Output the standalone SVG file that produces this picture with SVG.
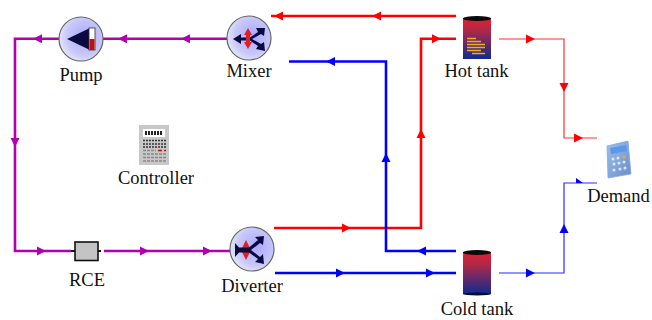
<svg xmlns="http://www.w3.org/2000/svg" width="652" height="320" viewBox="0 0 652 320">
<style>
text{font-family:"Liberation Serif","Times New Roman",serif;font-size:18.500px;fill:#111;text-anchor:middle}
.c{fill:none;stroke-linejoin:miter}
.p{stroke:#b000b0;stroke-width:2.600}
.r{stroke:#ff0000;stroke-width:2.600}
.b{stroke:#0000ff;stroke-width:2.600}
.rt{stroke:#ff3030;stroke-width:1.200}
.bt{stroke:#2a2aff;stroke-width:1.200}
.ball{fill:url(#ball);stroke:#666;stroke-width:1.200}
.ar{fill:#0a0a40}
.redm{fill:#e02020}
</style>
<defs>
<radialGradient id="ball" cx="0.6" cy="0.45" r="0.7"><stop offset="0" stop-color="#a8a8ff"/><stop offset="0.6" stop-color="#c8c8f8"/><stop offset="1" stop-color="#f4f4fa"/></radialGradient>
<linearGradient id="tank" x1="0" y1="0" x2="0" y2="1"><stop offset="0" stop-color="#e02030"/><stop offset="0.3" stop-color="#b02848"/><stop offset="1" stop-color="#102a90"/></linearGradient>
<linearGradient id="calc" x1="0" y1="0" x2="1" y2="1"><stop offset="0" stop-color="#9cc0f0"/><stop offset="1" stop-color="#6a8cc8"/></linearGradient>
<g id="pa"><path d="M-5,-4.500 L4,0 L-5,4.500 Z"/></g>
</defs>
<g id="connectors">
<path class="c p" d="M60,38.700H15V251H71"/>
<path class="c p" d="M227,38.700H103"/>
<path class="c p" d="M104,251H230"/>
<path class="c r" d="M456,16H271"/>
<path class="c r" d="M274,228H421V38.700H456"/>
<path class="c b" d="M456,251H386V61.500H289"/>
<path class="c b" d="M275,273H456"/>
<path class="c rt" d="M499,39H564V138H597"/>
<path class="c bt" d="M499,273H564V183H597"/>
<g fill="#b000b0">
<use href="#pa" transform="translate(37,38.700) rotate(180)"/>
<use href="#pa" transform="translate(122,38.700) rotate(180)"/>
<use href="#pa" transform="translate(185,38.700) rotate(180)"/>
<use href="#pa" transform="translate(15,143) rotate(90)"/>
<use href="#pa" transform="translate(42,251)"/>
<use href="#pa" transform="translate(145,251)"/>
<use href="#pa" transform="translate(208,251)"/>
</g>
<g fill="#ff0000">
<use href="#pa" transform="translate(278,16) rotate(180)"/>
<use href="#pa" transform="translate(376,16) rotate(180)"/>
<use href="#pa" transform="translate(347,228)"/>
<use href="#pa" transform="translate(421,133) rotate(-90)"/>
<use href="#pa" transform="translate(437,38.700)"/>
<use href="#pa" transform="translate(531,39)"/>
<use href="#pa" transform="translate(564,88) rotate(90)"/>
<use href="#pa" transform="translate(579,138)"/>
</g>
<g fill="#0000ff">
<use href="#pa" transform="translate(330,61.500) rotate(180)"/>
<use href="#pa" transform="translate(386,157) rotate(-90)"/>
<use href="#pa" transform="translate(421,251) rotate(180)"/>
<use href="#pa" transform="translate(341,273)"/>
<use href="#pa" transform="translate(431,273)"/>
<use href="#pa" transform="translate(531,273)"/>
<use href="#pa" transform="translate(564,228) rotate(-90)"/>
<path d="M576,183 V178 L583,183 Z"/>
</g>
</g>
<g id="pump">
<circle class="ball" cx="81" cy="39" r="22"/>
<path class="ar" d="M67,39 L90,28 V50 Z"/>
<rect x="89" y="28" width="6" height="22" fill="#fff" stroke="#333" stroke-width="0.800"/>
<rect x="89.500" y="39" width="5" height="11" fill="#c01010"/>
<text x="81" y="81">Pump</text>
</g>
<g id="mixer">
<circle class="ball" cx="249" cy="38" r="22"/>
<path class="ar" d="M233,39 L241,34 V37.500 H250 L258,32 L256,28 L265,28 L264,36 L261,34 L252,39 L261,44 L264,42 L265,51 L256,49 L258,46 L250,40.500 H241 V44 Z"/>
<path class="redm" d="M248,28 L252,35 H250 V42 H252 L248,49 L244,42 H246 V35 H244 Z"/>
<text x="249" y="77">Mixer</text>
</g>
<g id="diverter">
<circle class="ball" cx="252" cy="249" r="22"/>
<path class="redm" d="M246,240 L250,248 H248 V252 H250 L246,260 L242,252 H244 V248 H242 Z"/>
<path class="ar" d="M235,243 L239,247.500 H249 L258,240 L255,237 L264,236 L263,245 L260,243 L251,250 L260,257 L263,254 L264,264 L255,262 L258,259 L249,252.500 H239 L235,257 Z"/>
<text x="252" y="292">Diverter</text>
</g>
<g id="rce">
<rect x="75" y="242" width="23" height="18.500" fill="#c4c4c4" stroke="#111" stroke-width="1.600"/>
<path d="M71,251H75M98,251H101" stroke="#111" stroke-width="2"/>
<text x="87" y="286">RCE</text>
</g>
<g id="controller">
<rect x="139" y="125" width="30" height="40" fill="#c8c8c8"/>
<rect x="143" y="129" width="22" height="8" fill="#fff"/>
<path d="M145,133H163" stroke="#222" stroke-width="4" stroke-dasharray="2 1"/>
<path d="M143,140.500H166M143,144H166M143,147H166" stroke="#333" stroke-width="1.500" stroke-dasharray="2 1"/>
<path d="M143,150.500H156M143,154H166M143,157.500H166M143,161H166" stroke="#888" stroke-width="1.500" stroke-dasharray="3 1"/>
<path d="M158,150.500H162M164,150.500H166" stroke="#f00000" stroke-width="1.500"/>
<text x="156" y="184">Controller</text>
</g>
<g id="hot-tank">
<rect x="463" y="18" width="28" height="41" fill="url(#tank)"/>
<ellipse cx="477" cy="18.500" rx="14" ry="2.500" fill="#0a0a0a"/>
<path d="M467,38.500H476M467,41.500H481M467,44.500H485M467,47.500H485M467,50.500H481M472,53.500H485" stroke="#f0b010" stroke-width="1.700"/>
<text x="476.500" y="77">Hot tank</text>
</g>
<g id="cold-tank">
<rect x="463" y="252" width="28" height="42" fill="url(#tank)"/>
<ellipse cx="477" cy="252.500" rx="14" ry="2.500" fill="#0a0a0a"/>
<ellipse cx="477" cy="294" rx="14" ry="1.500" fill="#0a0a30"/>
<text x="477" y="315">Cold tank</text>
</g>
<g id="demand">
<path d="M607,146 L628,141 L631,174 L608,178 Z" fill="url(#calc)" stroke="#8aa8d8" stroke-width="0.800"/>
<path d="M610,148 L626,145 L627,151 L611,154 Z" fill="#5a98e8"/>
<g fill="#dce8f8"><circle cx="613" cy="159" r="1.500"/><circle cx="618" cy="158" r="1.500"/><circle cx="624" cy="157" r="1.800" fill="#e8a060"/><circle cx="614" cy="164" r="1.500"/><circle cx="619" cy="163" r="1.500"/><circle cx="624" cy="162" r="1.500"/><circle cx="614" cy="170" r="1.500"/><circle cx="620" cy="169" r="1.500"/><circle cx="625" cy="168" r="1.500"/></g>
<text x="618.500" y="202">Demand</text>
</g>
</svg>
